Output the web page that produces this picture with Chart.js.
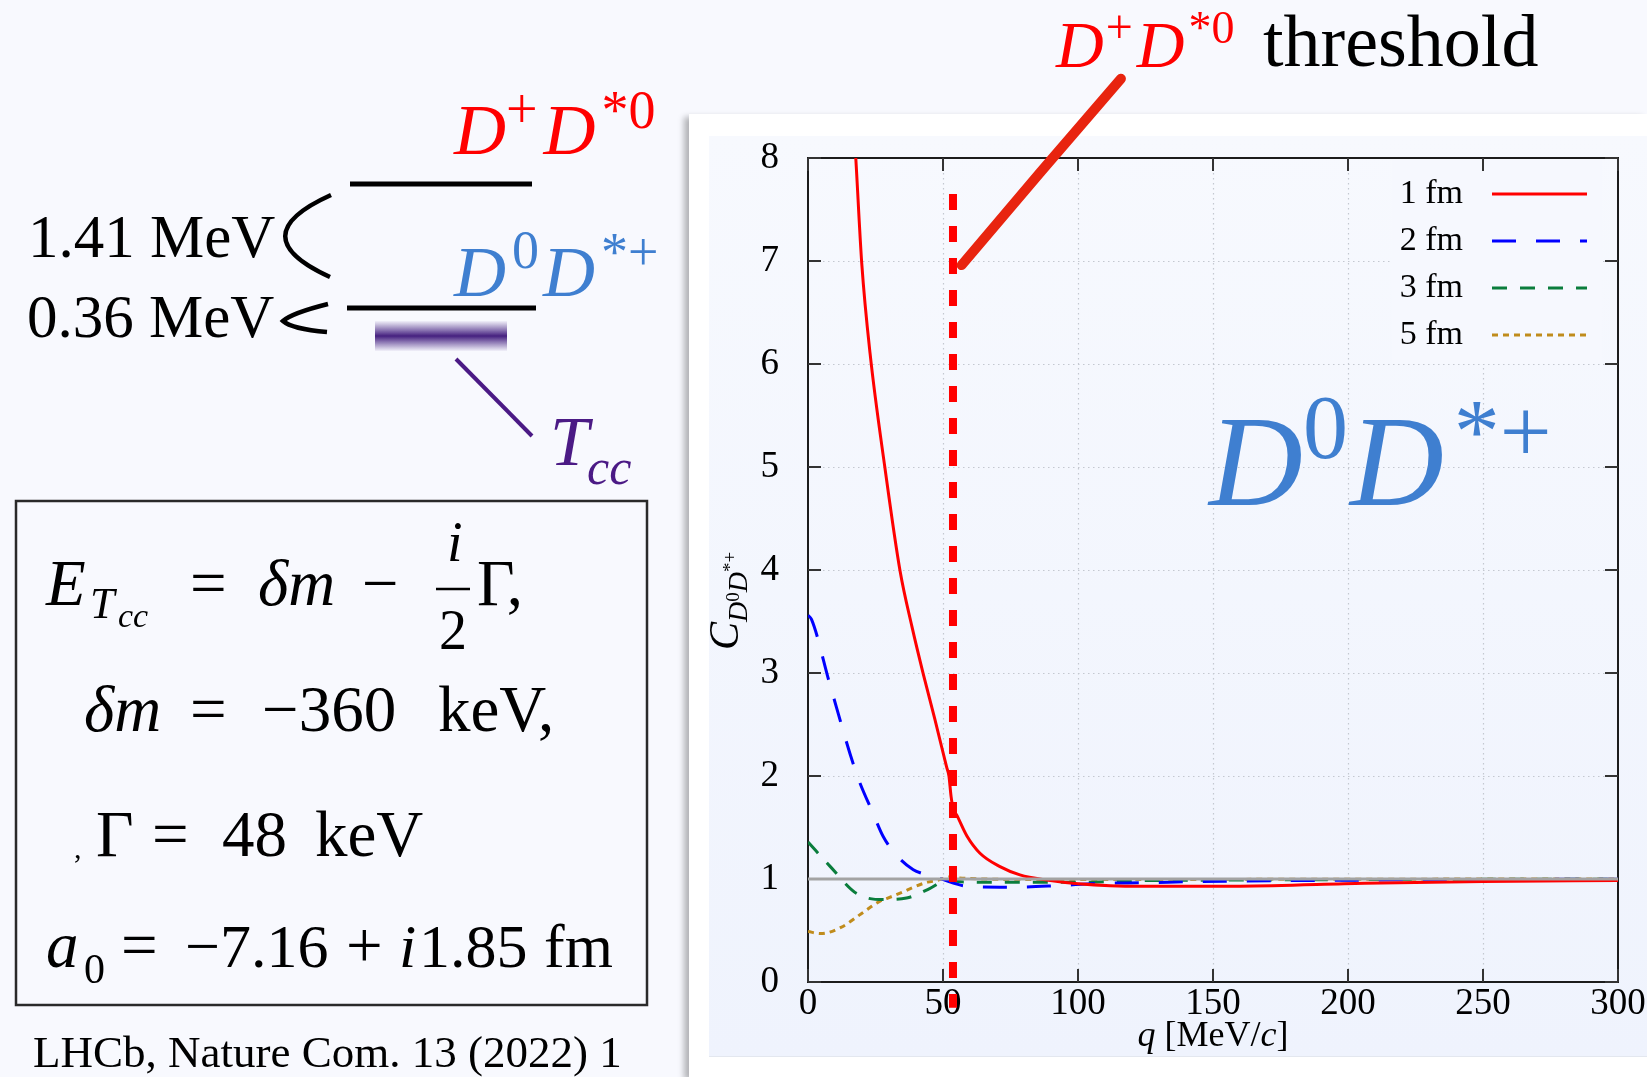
<!DOCTYPE html>
<html>
<head>
<meta charset="utf-8">
<title>D0D*+ correlation function</title>
<script src="https://cdn.jsdelivr.net/npm/chart.js@4.4.1/dist/chart.umd.min.js"></script>
<style>
  html, body { margin: 0; padding: 0; }
  body {
    width: 1647px; height: 1077px; position: relative; overflow: hidden;
    background: #f8f9fe;
    font-family: 'Liberation Serif', 'Times New Roman', serif;
  }
  #panel {
    position: absolute; left: 689px; top: 114px; width: 958px; height: 963px;
    background: #ffffff; box-shadow: -5px 3px 6px rgba(0, 0, 0, 0.28);
  }
  #plotBg {
    position: absolute; left: 709px; top: 136px; width: 938px; height: 920px;
    background: linear-gradient(#f7f9fe, #eff3fd);
    border-bottom: 1px solid #e3e7ef;
  }
  #chart { position: absolute; left: 689px; top: 0; }
  #overlay { position: absolute; left: 0; top: 0; pointer-events: none; }
</style>
</head>
<body>
<div id="panel"></div>
<div id="plotBg"></div>
<canvas id="chart" width="958" height="1077"></canvas>

<svg id="overlay" width="1647" height="1077" xmlns="http://www.w3.org/2000/svg" font-family="Liberation Serif, Times New Roman, serif">
  <defs>
    <linearGradient id="tccGrad" x1="0" y1="0" x2="0" y2="1">
      <stop offset="0" stop-color="#4b2a88" stop-opacity="0.04"/>
      <stop offset="0.5" stop-color="#45207f" stop-opacity="1"/>
      <stop offset="1" stop-color="#4b2a88" stop-opacity="0.04"/>
    </linearGradient>
  </defs>

  <!-- level scheme -->
  <line x1="350" y1="184" x2="532" y2="184" stroke="#000" stroke-width="5"/>
  <line x1="347" y1="308" x2="536" y2="308" stroke="#000" stroke-width="5"/>
  <rect x="375" y="321" width="132" height="30" fill="url(#tccGrad)"/>
  <path d="M331,195 Q240,236 330,277" fill="none" stroke="#000" stroke-width="4.5"/>
  <path d="M328,304 Q292,313 283,321 Q292,329 327,332" fill="none" stroke="#000" stroke-width="4.5"/>
  <line x1="456" y1="359" x2="532" y2="436" stroke="#4b1a85" stroke-width="4"/>

  <text x="28" y="257" font-size="61">1.41 MeV</text>
  <text x="27" y="337" font-size="61">0.36 MeV</text>

  <text x="454" y="154" font-size="72" fill="#ff0000"><tspan font-style="italic">D</tspan><tspan font-size="56" dy="-26">+</tspan><tspan font-style="italic" dx="6" dy="26">D</tspan><tspan font-size="54" dx="6" dy="-26">*0</tspan></text>
  <text x="454" y="296" font-size="72" fill="#3f7fd0"><tspan font-style="italic">D</tspan><tspan font-size="54" dx="6" dy="-28">0</tspan><tspan font-style="italic" dx="4" dy="28">D</tspan><tspan font-size="54" dx="6" dy="-26">*+</tspan></text>
  <text x="550" y="465" font-size="70" font-style="italic" fill="#4b1a85">T</text>
  <text x="587" y="484" font-size="50" font-style="italic" fill="#4b1a85">cc</text>

  <!-- formula box -->
  <rect x="16" y="501" width="631" height="504" fill="none" stroke="#2a2a2a" stroke-width="2.5"/>
  <text x="46" y="605" font-size="65" font-style="italic">E</text>
  <text x="90" y="618" font-size="44" font-style="italic">T</text>
  <text x="118" y="627" font-size="34" font-style="italic">cc</text>
  <text x="190" y="605" font-size="65">=</text>
  <text x="258" y="605" font-size="65" font-style="italic">δm</text>
  <text x="362" y="605" font-size="65">−</text>
  <text x="447" y="561" font-size="56" font-style="italic">i</text>
  <line x1="436" y1="589" x2="470" y2="589" stroke="#000" stroke-width="2.5"/>
  <text x="439" y="649" font-size="56">2</text>
  <text x="477" y="605" font-size="65">Γ,</text>

  <text x="84" y="731" font-size="65" font-style="italic">δm</text>
  <text x="190" y="731" font-size="65">=</text>
  <text x="262" y="731" font-size="65">−360</text>
  <text x="438" y="731" font-size="65">keV,</text>

  <text x="74" y="858" font-size="30">,</text>
  <text x="96" y="856" font-size="65">Γ</text>
  <text x="152" y="856" font-size="65">=</text>
  <text x="222" y="856" font-size="65">48</text>
  <text x="315" y="856" font-size="65">keV</text>

  <text x="46" y="967" font-size="65" font-style="italic">a</text>
  <text x="84" y="983" font-size="42">0</text>
  <text x="121" y="967" font-size="65">=</text>
  <text x="185" y="967" font-size="62">−7.16</text>
  <text x="346" y="967" font-size="65">+</text>
  <text x="399" y="967" font-size="62" font-style="italic">i</text>
  <text x="419" y="967" font-size="62">1.85</text>
  <text x="544" y="967" font-size="62">fm</text>

  <text x="33" y="1067" font-size="45">LHCb, Nature Com. 13 (2022) 1</text>

  <!-- threshold annotation -->
  <text x="1056" y="67" font-size="66" fill="#ff0000"><tspan font-style="italic">D</tspan><tspan font-size="48" dx="2" dy="-24">+</tspan><tspan font-style="italic" dx="4" dy="24">D</tspan><tspan font-size="46" dx="4" dy="-24">*0</tspan></text>
  <text x="1263" y="66" font-size="74">threshold</text>

  <!-- channel label inside plot -->
  <text x="1209" y="505" font-size="130" fill="#3f7fd0"><tspan font-style="italic">D</tspan><tspan font-size="90" dy="-47">0</tspan><tspan font-style="italic" font-size="130" dx="2" dy="47">D</tspan><tspan font-size="92" dx="10" dy="-43">*+</tspan></text>

  <!-- axis titles -->
  <text x="1213" y="1046" font-size="36" text-anchor="middle"><tspan font-style="italic">q</tspan> [MeV/<tspan font-style="italic">c</tspan>]</text>
  <text transform="translate(738,650) rotate(-90)" font-size="42"><tspan font-style="italic">C</tspan><tspan font-size="28" font-style="italic" dy="9">D</tspan><tspan font-size="19" dy="-8">0</tspan><tspan font-size="28" font-style="italic" dy="8">D</tspan><tspan font-size="19" dy="-11">*+</tspan></text>
</svg>

<script>
// axis ticks
const xTicks = [0, 50, 100, 150, 200, 250, 300];
const yTicks = [0, 1, 2, 3, 4, 5, 6, 7, 8];

// 1 fm source
const q1fm = [5, 10, 14, 17.7, 19.9, 23.0, 28.5, 34.1, 38.5, 42.7, 47, 51.3, 52.2, 53.0, 53.8, 55.1, 58.8, 63.7, 71.1, 78.5, 88.4, 100, 123, 160, 206, 250, 300];
const c1fm = [25, 13, 9.6, 8.0, 6.98, 6.1, 4.99, 3.99, 3.45, 2.99, 2.55, 2.09, 2.0, 1.8, 1.68, 1.62, 1.42, 1.25, 1.12, 1.04, 0.99, 0.955, 0.93, 0.93, 0.958, 0.975, 0.985];

// 2 fm source
const q2fm = [0, 1.3, 8.1, 18, 24.2, 27.9, 32.8, 39, 42.7, 46.4, 50.1, 53.8, 57.5, 64, 75, 92, 108, 125, 142, 159, 176, 193, 230, 300];
const c2fm = [3.56, 3.52, 2.89, 2.02, 1.63, 1.41, 1.23, 1.09, 1.05, 1.02, 0.995, 0.96, 0.935, 0.922, 0.92, 0.935, 0.958, 0.964, 0.974, 0.98, 0.984, 0.987, 0.993, 0.998];

// 3 fm source
const q3fm = [0, 8.1, 18, 27.9, 36.5, 45.2, 50.1, 53.5, 58, 70, 100, 123, 160, 220, 300];
const c3fm = [1.36, 1.125, 0.86, 0.80, 0.815, 0.91, 0.975, 0.98, 0.97, 0.968, 0.968, 0.984, 0.99, 0.995, 0.998];

// 5 fm source
const q5fm = [0, 4.8, 12.2, 19.6, 27.0, 29.1, 35.6, 39, 44.3, 47.7, 52.6, 56, 65, 80, 120, 200, 300];
const c5fm = [0.49, 0.47, 0.53, 0.66, 0.79, 0.81, 0.88, 0.92, 0.97, 0.985, 1.02, 1.01, 1.0, 0.995, 0.995, 0.998, 1.0];

// reference line C = 1 and the D+D*0 threshold marker
const qUnity = [0, 300];
const cUnity = [1, 1];
const qThreshold = [53.7, 53.7];
const cThreshold = [7.65, -0.25];
const qArrow = [56.9, 86, 115.9];
const cArrow = [6.96, 7.86, 8.77];

const toPoints = (qs, cs) => qs.map((q, i) => ({ x: q, y: cs[i] }));

Chart.defaults.font.family = "'Liberation Serif', 'Times New Roman', serif";
Chart.defaults.color = '#000';

// dotted grid, legend, frame and inward ticks (gnuplot style)
const framePlugin = {
    id: 'frame',
    beforeDatasetsDraw(chart) {
        const { ctx, chartArea: a, scales: { x, y } } = chart;
        ctx.save();

        ctx.strokeStyle = '#c4c8d0';
        ctx.lineWidth = 1.2;
        ctx.setLineDash([1.5, 3.5]);
        xTicks.forEach(v => {
            if (v <= x.min || v >= x.max) return;
            const px = Math.round(x.getPixelForValue(v)) + 0.5;
            ctx.beginPath(); ctx.moveTo(px, a.top); ctx.lineTo(px, a.bottom); ctx.stroke();
        });
        yTicks.forEach(v => {
            if (v <= y.min || v >= y.max) return;
            const py = Math.round(y.getPixelForValue(v)) + 0.5;
            ctx.beginPath(); ctx.moveTo(a.left, py); ctx.lineTo(a.right, py); ctx.stroke();
        });
        ctx.setLineDash([]);

        // legend
        ctx.fillStyle = '#f6f8fe';
        ctx.fillRect(a.right - 226, a.top + 2, 210, 204);
        const entries = chart.data.datasets.filter(d => d.label);
        ctx.font = "34px 'Liberation Serif', serif";
        ctx.textAlign = 'right';
        ctx.textBaseline = 'alphabetic';
        entries.forEach((d, i) => {
            const ly = a.top + 36 + 47 * i;
            ctx.fillStyle = '#000';
            ctx.fillText(d.label, a.right - 155, ly + 9);
            ctx.strokeStyle = d.borderColor;
            ctx.lineWidth = d.borderWidth;
            ctx.setLineDash(d.borderDash || []);
            ctx.beginPath(); ctx.moveTo(a.right - 126, ly); ctx.lineTo(a.right - 31, ly); ctx.stroke();
        });
        ctx.setLineDash([]);

        // frame
        ctx.strokeStyle = '#1c1c1c';
        ctx.lineWidth = 2;
        ctx.strokeRect(a.left, a.top, a.width, a.height);

        // inward ticks on all four sides
        const tl = 13;
        ctx.lineWidth = 2;
        ctx.strokeStyle = '#333';
        xTicks.forEach(v => {
            const px = x.getPixelForValue(v);
            ctx.beginPath();
            ctx.moveTo(px, a.bottom); ctx.lineTo(px, a.bottom - tl);
            ctx.moveTo(px, a.top); ctx.lineTo(px, a.top + tl);
            ctx.stroke();
        });
        yTicks.forEach(v => {
            const py = y.getPixelForValue(v);
            ctx.beginPath();
            ctx.moveTo(a.left, py); ctx.lineTo(a.left + tl, py);
            ctx.moveTo(a.right, py); ctx.lineTo(a.right - tl, py);
            ctx.stroke();
        });
        ctx.restore();
    }
};

const curve = { pointRadius: 0, borderWidth: 3, fill: false, cubicInterpolationMode: 'monotone' };

new Chart(document.getElementById('chart').getContext('2d'), {
    type: 'line',
    data: {
        datasets: [
            { ...curve, label: '1 fm', data: toPoints(q1fm, c1fm), borderColor: '#ff0000', order: 3 },
            { ...curve, label: '2 fm', data: toPoints(q2fm, c2fm), borderColor: '#0000ff', borderDash: [24, 20], order: 4 },
            { ...curve, label: '3 fm', data: toPoints(q3fm, c3fm), borderColor: '#0a7d3c', borderDash: [15, 13], order: 5 },
            { ...curve, label: '5 fm', data: toPoints(q5fm, c5fm), borderColor: '#c08c1c', borderDash: [6, 5], order: 6 },
            { label: '', data: toPoints(qUnity, cUnity), borderColor: '#a3a3a3', borderWidth: 3, pointRadius: 0, order: 2 },
            { label: '', data: toPoints(qThreshold, cThreshold), borderColor: '#ff0000', borderWidth: 8,
              borderDash: [16, 16], pointRadius: 0, clip: false, order: 1 },
            { label: '', data: toPoints(qArrow, cArrow), borderColor: '#e8240f', borderWidth: 10,
              borderCapStyle: 'round', pointRadius: 0, clip: false, order: 0 }
        ]
    },
    options: {
        responsive: false,
        animation: false,
        events: [],
        layout: { padding: { top: 158, right: 29, bottom: 0, left: 0 } },
        plugins: { legend: { display: false }, tooltip: { enabled: false } },
        scales: {
            x: {
                type: 'linear',
                min: 0,
                max: 300,
                afterBuildTicks: s => { s.ticks = xTicks.map(v => ({ value: v })); },
                afterFit: s => { s.height = 95; },
                grid: { display: false },
                border: { display: false },
                ticks: { autoSkip: false, maxRotation: 0, padding: -4, color: '#000',
                         font: { size: 37, lineHeight: 1 } }
            },
            y: {
                min: 0,
                max: 8,
                afterBuildTicks: s => { s.ticks = yTicks.map(v => ({ value: v })); },
                afterFit: s => { s.width = 119; },
                grid: { display: false },
                border: { display: false },
                ticks: { padding: 21, color: '#000', font: { size: 37, lineHeight: 1 } }
            }
        }
    },
    plugins: [framePlugin]
});
</script>
</body>
</html>
